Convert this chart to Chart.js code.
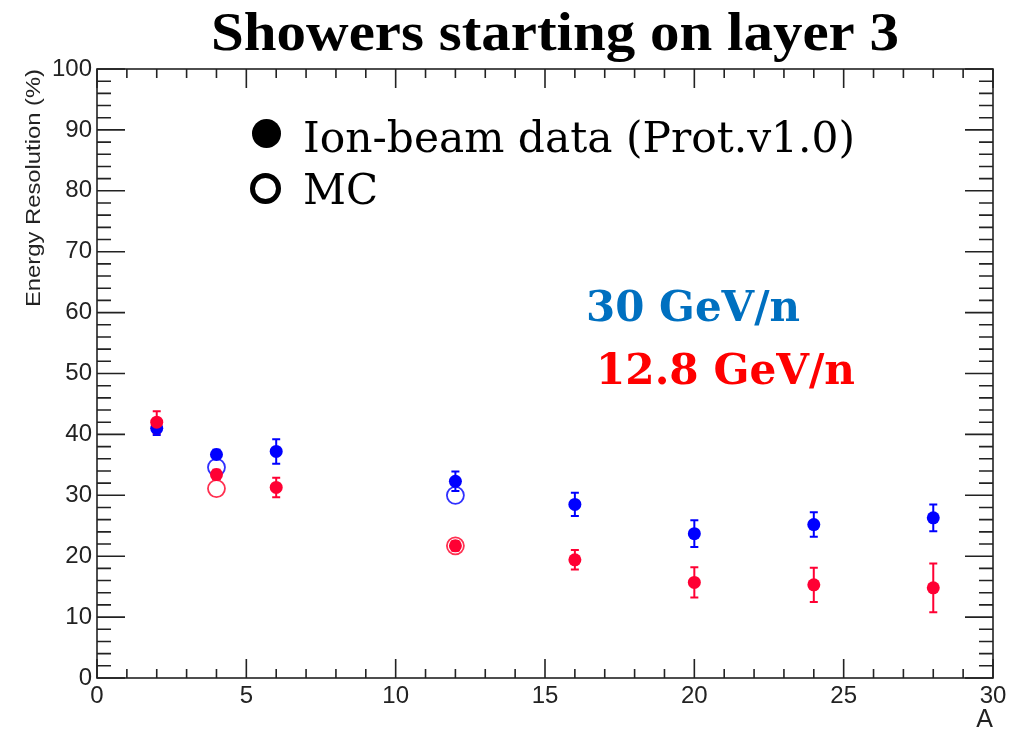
<!DOCTYPE html>
<html><head><meta charset="utf-8">
<script src="https://cdn.jsdelivr.net/npm/chart.js@4/dist/chart.umd.min.js"></script>
<style>html,body{margin:0;padding:0;background:#fff;overflow:hidden}canvas{display:block}</style>
</head><body>
<canvas id="c" width="1021" height="729"></canvas>
<script>
// ---- data ----
const massNumbers = [2, 4, 6, 12, 16, 20, 24, 28];
const res30 = [41.0, 36.7, 37.2, 32.3, 28.5, 23.7, 25.2, 26.3];
const err30 = [1.1, 0.8, 2.0, 1.6, 1.9, 2.2, 2.0, 2.2];
const res12 = [42.0, 33.4, 31.3, 21.7, 19.4, 15.7, 15.3, 14.8];
const err12 = [1.8, 0.8, 1.6, 0.8, 1.6, 2.5, 2.8, 4.0];
const mcMass = [4, 12];
const mc30 = [34.6, 30.0];
const mc12 = [31.1, 21.7];
const xTickValues = [0, 5, 10, 15, 20, 25, 30];
const yTickValues = [0, 10, 20, 30, 40, 50, 60, 70, 80, 90, 100];
const titleText = 'Showers starting on layer 3';
const legendData = 'Ion-beam data (Prot.v1.0)';
const legendMC = 'MC';
const label30 = '30 GeV/n';
const label12 = '12.8 GeV/n';
const yTitle = 'Energy Resolution (%)';
const xTitle = 'A';

const BLUE = '#0000ff', RED = '#ff0033';
const BLUE_MC = '#3030ff', RED_MC = '#ff3050';
const AXIS = '#222';

const pts = (xs, ys) => xs.map((x, i) => ({x, y: ys[i]}));

function stretchText(ctx, text, x, y, font, color, targetW, align) {
  ctx.save();
  ctx.font = font;
  ctx.fillStyle = color;
  ctx.textBaseline = 'alphabetic';
  ctx.textAlign = 'left';
  const w = ctx.measureText(text).width;
  const sx = targetW ? targetW / w : 1;
  const realW = w * sx;
  let x0 = x;
  if (align === 'center') x0 = x - realW / 2;
  else if (align === 'right') x0 = x - realW;
  ctx.translate(x0, y);
  ctx.scale(sx, 1);
  ctx.fillText(text, 0, 0);
  ctx.restore();
}

const errorBars = {
  id: 'errorBars',
  beforeDatasetsDraw(chart) {
    const {ctx, scales: {x, y}} = chart;
    const series = [[res30, err30, BLUE], [res12, err12, RED]];
    ctx.save();
    ctx.lineWidth = 2;
    series.forEach(([vals, errs, col]) => {
      ctx.strokeStyle = col;
      massNumbers.forEach((m, i) => {
        const px = x.getPixelForValue(m);
        const y1 = y.getPixelForValue(vals[i] - errs[i]);
        const y2 = y.getPixelForValue(vals[i] + errs[i]);
        ctx.beginPath();
        ctx.moveTo(px, y1); ctx.lineTo(px, y2);
        ctx.moveTo(px - 4, y1); ctx.lineTo(px + 4, y1);
        ctx.moveTo(px - 4, y2); ctx.lineTo(px + 4, y2);
        ctx.stroke();
      });
    });
    ctx.restore();
  }
};

const frameTicks = {
  id: 'frameTicks',
  afterDraw(chart) {
    const {ctx, chartArea: a, scales: {x, y}} = chart;
    ctx.save();
    ctx.strokeStyle = AXIS;
    ctx.lineWidth = 1.6;
    ctx.strokeRect(a.left, a.top, a.right - a.left, a.bottom - a.top);
    ctx.beginPath();
    for (let v = x.min; v <= x.max; v += 1) {
      const px = x.getPixelForValue(v);
      const len = (v % 5 === 0) ? 19 : 9;
      ctx.moveTo(px, a.bottom); ctx.lineTo(px, a.bottom - len);
      ctx.moveTo(px, a.top); ctx.lineTo(px, a.top + len);
    }
    for (let v = y.min; v <= y.max; v += 2) {
      const py = y.getPixelForValue(v);
      const len = (v % 10 === 0) ? 28 : 14;
      ctx.moveTo(a.left, py); ctx.lineTo(a.left + len, py);
      ctx.moveTo(a.right, py); ctx.lineTo(a.right - len, py);
    }
    ctx.stroke();
    ctx.restore();
  }
};

const texts = {
  id: 'texts',
  afterDraw(chart) {
    const {ctx, chartArea: a} = chart;
    // title
    stretchText(ctx, titleText, 555, 50, 'bold 55px "Liberation Serif"', '#000', 688, 'center');
    // legend
    ctx.save();
    ctx.fillStyle = '#000';
    ctx.beginPath(); ctx.arc(266.5, 133.5, 14.5, 0, Math.PI * 2); ctx.fill();
    ctx.strokeStyle = '#000'; ctx.lineWidth = 5;
    ctx.beginPath(); ctx.arc(265.5, 188.5, 13, 0, Math.PI * 2); ctx.stroke();
    ctx.restore();
    stretchText(ctx, legendData, 303, 152, '42px "DejaVu Serif"', '#000', 552, 'left');
    stretchText(ctx, legendMC, 303, 204, '42px "DejaVu Serif"', '#000', null, 'left');
    // energy labels
    stretchText(ctx, label30, 586, 321, 'bold 42px "DejaVu Serif"', '#0070c0', 214, 'left');
    stretchText(ctx, label12, 596, 384, 'bold 42px "DejaVu Serif"', '#ff0000', 259, 'left');
    // axis titles
    ctx.save();
    ctx.font = '20px "Liberation Sans"';
    ctx.fillStyle = '#222';
    const w = ctx.measureText(yTitle).width;
    ctx.translate(40, a.top + 238);
    ctx.rotate(-Math.PI / 2);
    ctx.scale(238 / w, 1);
    ctx.textBaseline = 'alphabetic';
    ctx.fillText(yTitle, 0, 0);
    ctx.restore();
    stretchText(ctx, xTitle, a.right, 727, '25px "Liberation Sans"', '#222', null, 'right');
  }
};

new Chart(document.getElementById('c'), {
  type: 'scatter',
  data: {
    datasets: [
      {label: 'Ion-beam data 12.8 GeV/n', data: pts(massNumbers, res12), order: 0,
       pointRadius: 6.5, pointBackgroundColor: RED, pointBorderWidth: 0, borderColor: RED, showLine: false},
      {label: 'MC 12.8 GeV/n', data: pts(mcMass, mc12), order: 1,
       pointRadius: 8.5, pointBackgroundColor: 'rgba(0,0,0,0)', pointBorderColor: RED_MC, pointBorderWidth: 1.8, showLine: false},
      {label: 'Ion-beam data 30 GeV/n', data: pts(massNumbers, res30), order: 2,
       pointRadius: 6.5, pointBackgroundColor: BLUE, pointBorderWidth: 0, borderColor: BLUE, showLine: false},
      {label: 'MC 30 GeV/n', data: pts(mcMass, mc30), order: 3,
       pointRadius: 8.5, pointBackgroundColor: 'rgba(0,0,0,0)', pointBorderColor: BLUE_MC, pointBorderWidth: 1.8, showLine: false}
    ]
  },
  options: {
    responsive: false,
    devicePixelRatio: 1,
    animation: false,
    events: [],
    layout: {padding: {top: 69, right: 28, left: 0, bottom: 0}},
    plugins: {legend: {display: false}, tooltip: {enabled: false}, title: {display: false}},
    scales: {
      x: {
        type: 'linear', min: 0, max: 30,
        afterBuildTicks: s => { s.ticks = xTickValues.map(v => ({value: v})); },
        afterFit: s => { s.height = 51; },
        grid: {display: false, drawTicks: false},
        border: {display: false},
        ticks: {padding: 4, color: '#222', font: {family: '"Liberation Sans"', size: 24}, maxRotation: 0, autoSkip: false}
      },
      y: {
        type: 'linear', min: 0, max: 100,
        afterBuildTicks: s => { s.ticks = yTickValues.map(v => ({value: v})); },
        afterFit: s => { s.width = 97; },
        grid: {display: false, drawTicks: false},
        border: {display: false},
        ticks: {padding: 5, color: '#222', font: {family: '"Liberation Sans"', size: 24}, autoSkip: false}
      }
    }
  },
  plugins: [errorBars, frameTicks, texts]
});
</script>
</body></html>
